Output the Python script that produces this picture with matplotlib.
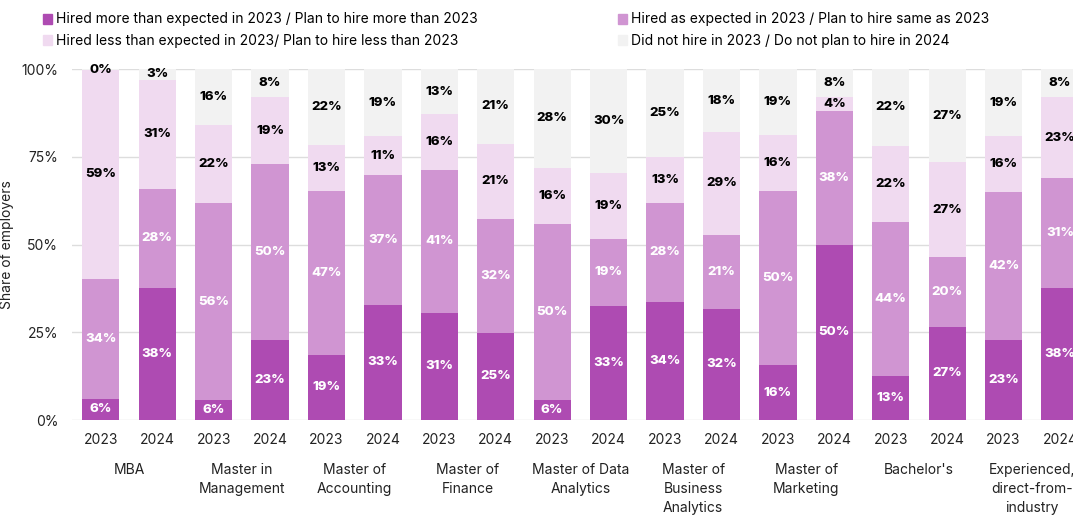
import matplotlib
matplotlib.use("Agg")
import matplotlib.pyplot as plt
import matplotlib.patches as mpatches
import numpy as np

# data (share of employers, %)
groups = ["MBA", "Master in\nManagement", "Master of\nAccounting", "Master of\nFinance",
          "Master of Data\nAnalytics", "Master of\nBusiness\nAnalytics", "Master of\nMarketing",
          "Bachelor's", "Experienced,\ndirect-from-\nindustry"]
years = ["2023", "2024"]

more = [6.0, 37.7, 5.6, 22.8, 18.6, 32.8, 30.6, 24.9, 5.6, 32.6, 33.7, 31.7, 15.6, 49.9, 12.6, 26.6, 22.8, 37.7]
same = [34.3, 28.1, 56.3, 50.1, 46.7, 37.0, 40.6, 32.4, 50.2, 18.9, 28.2, 21.1, 49.6, 38.0, 43.7, 19.8, 42.2, 31.2]
less = [59.4, 31.1, 22.1, 19.0, 13.0, 11.1, 15.9, 21.4, 16.1, 18.8, 12.9, 29.2, 15.9, 4.0, 21.9, 27.0, 15.9, 23.0]
none = [0.3, 3.1, 16.0, 8.1, 21.7, 19.1, 12.9, 21.3, 28.1, 29.7, 25.2, 18.0, 18.9, 8.1, 21.8, 26.6, 19.1, 8.1]

series_names = ["Hired more than expected in 2023 / Plan to hire more than 2023",
                "Hired as expected in 2023 / Plan to hire same as 2023",
                "Hired less than expected in 2023/ Plan to hire less than 2023",
                "Did not hire in 2023 / Do not plan to hire in 2024"]
colors = ["#AE4BB2", "#D095D2", "#F0DAF0", "#F2F2F2"]
text_colors = ["white", "white", "black", "black"]

plt.rcParams["font.family"] = ["Inter", "DejaVu Sans"]

fig = plt.figure(figsize=(10.73, 5.18), dpi=100)
ax = fig.add_axes([72 / 1073, (518 - 420) / 518, 1 - 72 / 1073, 351 / 518])

x = np.arange(len(more))
bottom = np.zeros(len(more))
for vals, col, tcol in zip([more, same, less, none], colors, text_colors):
    vals = np.array(vals)
    ax.bar(x, vals, 0.66, bottom=bottom, color=col, zorder=2)
    for xi, b, v in zip(x, bottom, vals):
        ax.text(xi, b + v / 2, f"{round(v)}%", ha="center", va="center",
                color=tcol, fontsize=9.5, fontweight="heavy", zorder=3, clip_on=False)
    bottom = bottom + vals

ax.set_xlim(-0.51, 17.23)
ax.set_ylim(0, 100)
ax.set_yticks([0, 25, 50, 75, 100])
ax.set_yticklabels(["0%", "25%", "50%", "75%", "100%"], fontsize=10, color="#222222")
ax.set_xticks(x)
ax.set_xticklabels(years * len(groups), fontsize=10, color="#222222")
ax.tick_params(axis="both", length=0)
ax.tick_params(axis="x", pad=9)
ax.tick_params(axis="y", pad=10)
ax.grid(axis="y", color="#DDDDDD", linewidth=1, zorder=0)
ax.set_axisbelow(True)
for s in ax.spines.values():
    s.set_visible(False)
ax.set_ylabel("Share of employers", fontsize=10, color="#222222")
ax.yaxis.set_label_coords(-0.058, 0.5)

for i, g in enumerate(groups):
    ax.annotate(g, xy=(2 * i + 0.5, 0), xycoords=("data", "axes fraction"),
                xytext=(0, -43), textcoords="offset pixels", ha="center", va="top",
                fontsize=10, color="#222222", linespacing=1.45, annotation_clip=False)

handles = [mpatches.Patch(color=c) for c in colors]
fig.legend([handles[0], handles[2]], [series_names[0], series_names[2]],
           loc="upper left", bbox_to_anchor=(30 / 1073, 1.0), frameon=False,
           fontsize=10, handlelength=0.7, handleheight=0.7, handletextpad=0.3,
           labelspacing=0.55)
fig.legend([handles[1], handles[3]], [series_names[1], series_names[3]],
           loc="upper left", bbox_to_anchor=(605 / 1073, 1.0), frameon=False,
           fontsize=10, handlelength=0.7, handleheight=0.7, handletextpad=0.3,
           labelspacing=0.55)

fig.savefig("out.png", dpi=100)
